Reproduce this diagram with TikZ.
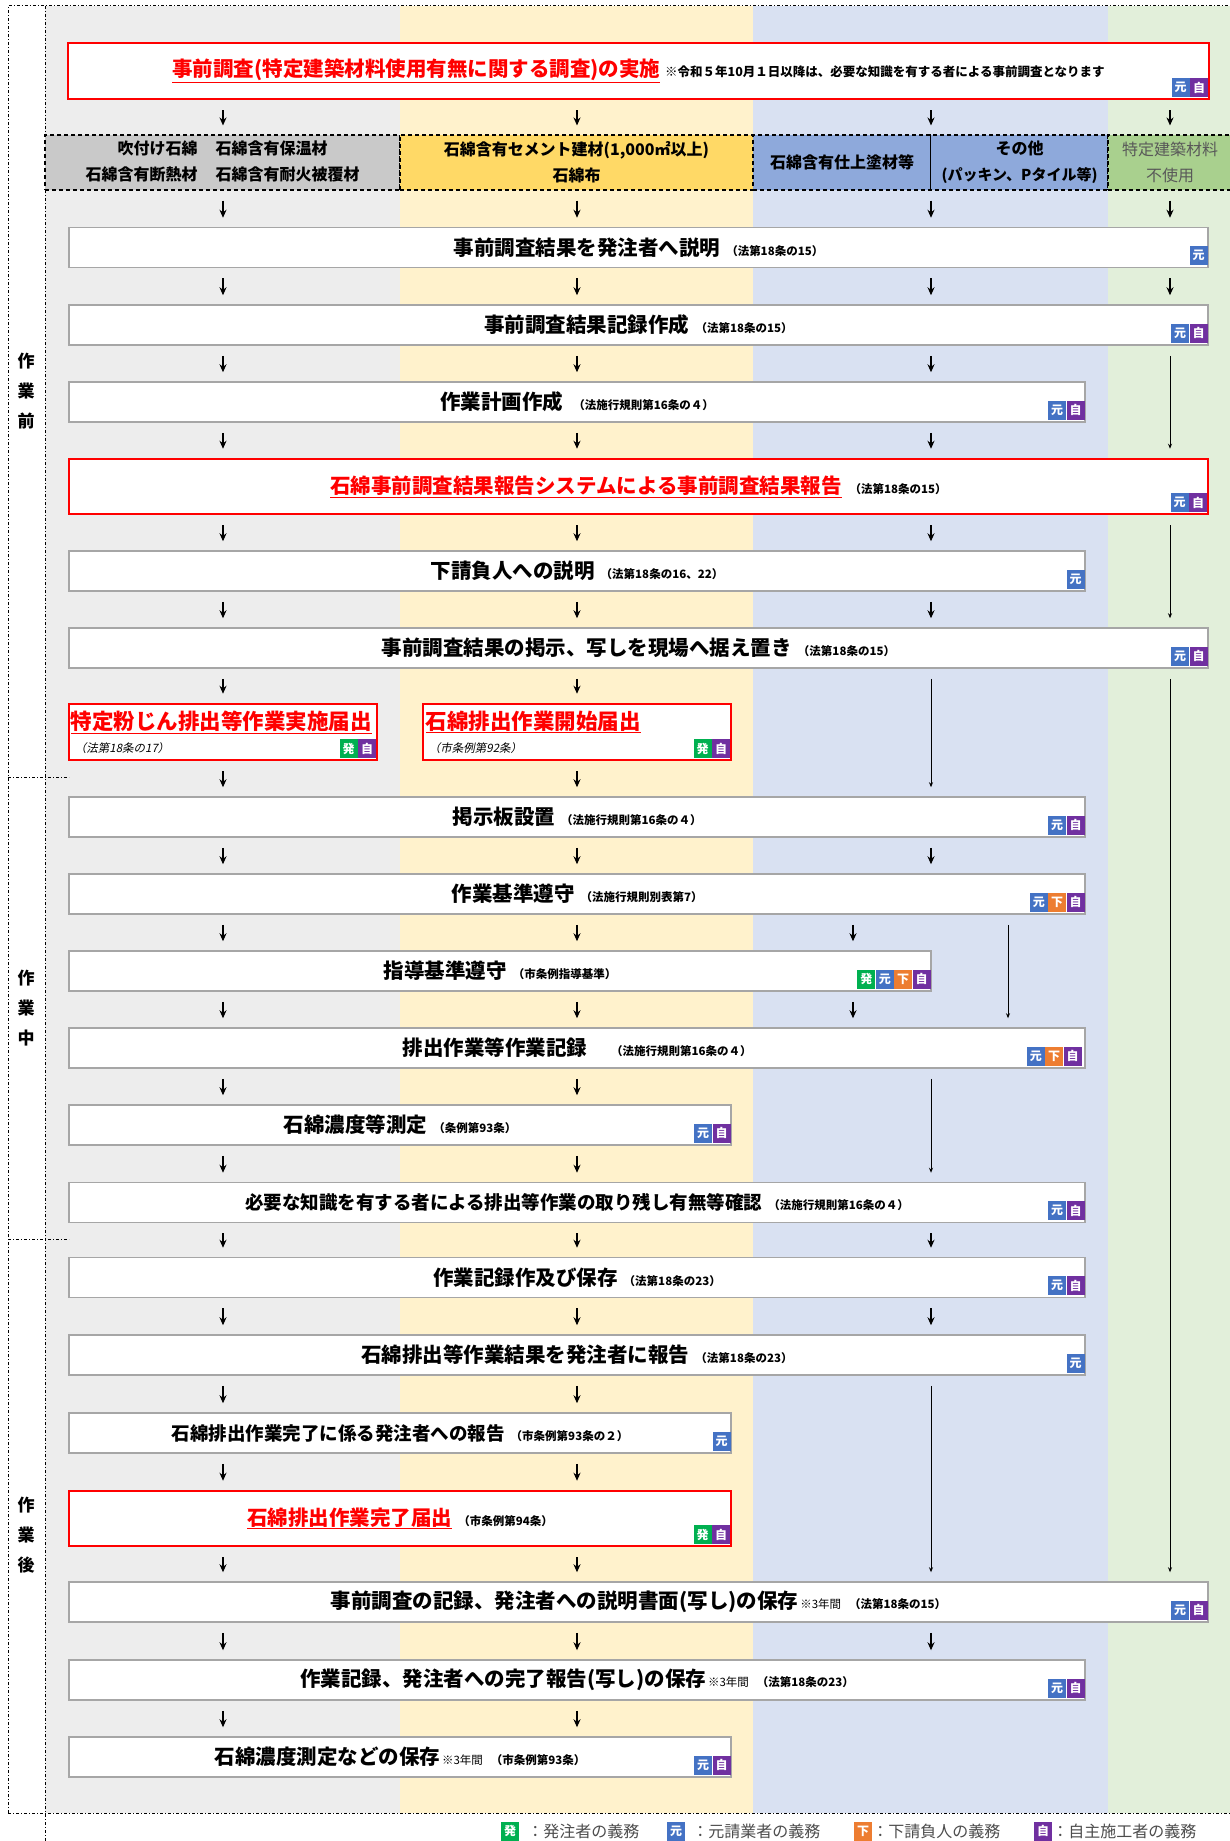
\documentclass[tikz,border=0pt]{standalone}
\usepackage{fontspec}
\setmainfont{Noto Sans CJK JP}
\newfontfamily\jpslant[FakeSlant=0.2]{Noto Sans CJK JP}
\usetikzlibrary{arrows.meta}

\definecolor{colgray}{HTML}{EDEDED}
\definecolor{colyellow}{HTML}{FFF2CC}
\definecolor{colblue}{HTML}{D9E1F2}
\definecolor{colgreen}{HTML}{E2EFDA}
\definecolor{headgray}{HTML}{C9C9C9}
\definecolor{headyellow}{HTML}{FFD966}
\definecolor{headblue}{HTML}{8EA9DB}
\definecolor{headgreen}{HTML}{A9D08E}
\definecolor{hatsugreen}{HTML}{00B050}
\definecolor{motoblue}{HTML}{4472C4}
\definecolor{shitaorange}{HTML}{ED7D31}
\definecolor{jishupurple}{HTML}{7030A0}
\definecolor{titlered}{HTML}{FF0000}

\newcommand{\lawref}[1]{{\fontsize{11.5}{13}\selectfont #1}}
\newcommand{\yearnote}{{\fontsize{11.5}{13}\selectfont\mdseries ※3年間}}
\newcommand{\redtitle}[1]{\textcolor{titlered}{\underline{#1}}}

\tikzset{
  flowbox/.style={draw=gray!70, line width=1.5pt, fill=white, minimum height=40pt,
    inner sep=0pt, font=\bfseries\fontsize{20.5}{24}\selectfont},
  flowred/.style={flowbox, draw=titlered, line width=2.5pt, minimum height=55pt},
  headbox/.style={draw, dash pattern=on 4pt off 3pt, line width=1.1pt, minimum height=55pt, inner sep=0pt,
    align=center, font=\bfseries\fontsize{16}{26}\selectfont},
  dutybadge/.style={minimum width=18pt, minimum height=19pt, inner sep=0pt, text=white,
    font=\bfseries\fontsize{12}{12}\selectfont, anchor=south east},
  hatsu/.style={dutybadge, fill=hatsugreen},
  moto/.style={dutybadge, fill=motoblue},
  shita/.style={dutybadge, fill=shitaorange},
  jishu/.style={dutybadge, fill=jishupurple},
  phase/.style={align=center, font=\bfseries\fontsize{17}{30}\selectfont},
  legendtext/.style={anchor=west, inner sep=0pt, text=gray!60!black, font=\fontsize{16}{18}\selectfont},
  flowarrow/.style={line width=1.8pt, -{Stealth[length=8pt,width=7pt]}, shorten <=10pt, shorten >=9pt},
  longarrow/.style={line width=0.8pt, -{Stealth[length=5pt,width=4pt]}, shorten <=10pt, shorten >=9pt},
  framedash/.style={line width=1pt, dash dot},
}

\begin{document}
\begin{tikzpicture}[x=1pt, y=-1pt]
\useasboundingbox (0,0) rectangle (1230,1841);

%% column backgrounds
\fill[colgray] (45,6) rectangle (400,1813);
\fill[colyellow] (400,6) rectangle (753,1813);
\fill[colblue] (753,6) rectangle (1108,1813);
\fill[colgreen] (1108,6) rectangle (1230,1813);

%% frame
\draw[framedash] (8,1813) -- (8,6) -- (1230,6);
\draw[framedash] (8,1813) -- (1230,1813);
\draw[framedash] (45,6) -- (45,1841);
\draw[framedash] (8,777) -- (69,777);
\draw[framedash] (8,1239) -- (69,1239);

\node[phase] (pre) at (26,391) {作\\業\\前};
\node[phase] (mid) at (26,1008) {作\\業\\中};
\node[phase] (post) at (26,1535) {作\\業\\後};

%% arrow columns
\coordinate (cG) at (223,0);
\coordinate (cY) at (577,0);
\coordinate (cB) at (931,0);
\coordinate (cE) at (1170,0);
\coordinate (cBl) at (853,0);
\coordinate (cBr) at (1008,0);

%% title
\node[flowred, minimum width=1141pt, minimum height=56pt] (T) at (638.5,71)
  {\redtitle{事前調査(特定建築材料使用有無に関する調査)の実施}\hspace{5pt}{\fontsize{12.5}{14}\selectfont ※令和５年10月１日以降は、必要な知識を有する者による事前調査となります}};
\node[jishu] (Tj) at ([xshift=-2pt,yshift=3pt]T.south east) {自};
\node[moto, anchor=east] (Tm) at (Tj.west) {元};

%% material headers
\node[headbox, fill=headgray, minimum width=355pt] (HG) at (222.5,162.5)
  {\begin{tabular}{@{}r@{\hspace{18pt}}l@{}}吹付け石綿 & 石綿含有保温材\\ 石綿含有断熱材 & 石綿含有耐火被覆材\end{tabular}};
\node[headbox, fill=headyellow, minimum width=353pt] (HY) at (576.5,162.5)
  {石綿含有セメント建材(1,000㎡以上)\\石綿布};
\node[headbox, fill=headblue, minimum width=355pt] (HB) at (930.5,162.5) {};
\draw[line width=0.8pt] (HB.north) -- (HB.south);
\node[font=\bfseries\fontsize{16}{20}\selectfont] (HBl) at (842,162.5) {石綿含有仕上塗材等};
\node[align=center, font=\bfseries\fontsize{16}{26}\selectfont] (HBr) at (1019.5,162.5)
  {その他\\{\fontsize{15}{26}\selectfont (パッキン、Pタイル等)}};
\node[headbox, fill=headgreen, minimum width=124pt, text=gray!70!black,
  font=\fontsize{16}{26}\selectfont] (HE) at (1170,162.5) {特定建築材料\\不使用};

%% before work
\node[flowbox, minimum width=1139pt] (B1) at (638.5,247.5) {事前調査結果を発注者へ説明\hspace{6pt}\lawref{（法第18条の15）}};
\node[moto] (B1m) at ([xshift=-1pt,yshift=3pt]B1.south east) {元};

\node[flowbox, minimum width=1139pt] (B2) at (638.5,325) {事前調査結果記録作成\hspace{6pt}\lawref{（法第18条の15）}};
\node[jishu] (B2j) at ([xshift=-1pt,yshift=3pt]B2.south east) {自};
\node[moto, anchor=east] (B2m) at (B2j.west) {元};

\node[flowbox, minimum width=1016pt] (B3) at (577,402) {作業計画作成\hspace{10pt}\lawref{（法施行規則第16条の４）}};
\node[jishu] (B3j) at ([xshift=-1pt,yshift=3pt]B3.south east) {自};
\node[moto, anchor=east] (B3m) at (B3j.west) {元};

\node[flowred, minimum width=1139pt] (B4) at (638.5,486.5) {\redtitle{石綿事前調査結果報告システムによる事前調査結果報告}\hspace{8pt}\lawref{（法第18条の15）}};
\node[jishu] (B4j) at ([xshift=-2pt,yshift=3pt]B4.south east) {自};
\node[moto, anchor=east] (B4m) at (B4j.west) {元};

\node[flowbox, minimum width=1016pt] (B5) at (577,571) {下請負人への説明\hspace{6pt}\lawref{（法第18条の16、22）}};
\node[moto] (B5m) at ([xshift=-1pt,yshift=3pt]B5.south east) {元};

\node[flowbox, minimum width=1139pt] (B6) at (638.5,648) {事前調査結果の掲示、写しを現場へ据え置き\hspace{6pt}\lawref{（法第18条の15）}};
\node[jishu] (B6j) at ([xshift=-1pt,yshift=3pt]B6.south east) {自};
\node[moto, anchor=east] (B6m) at (B6j.west) {元};

%% notifications
\node[flowred, minimum width=308pt, minimum height=56pt] (R1) at (223,732) {};
\node[anchor=west, inner sep=0pt, font=\bfseries\fontsize{21.5}{24}\selectfont] (R1t) at ([xshift=3pt,yshift=10pt]R1.west) {\redtitle{特定粉じん排出等作業実施届出}};
\node[anchor=west, inner sep=0pt] (R1r) at ([xshift=7pt,yshift=-16pt]R1.west) {\lawref{\jpslant （法第18条の17）}};
\node[jishu] (R1j) at ([xshift=-2pt,yshift=3pt]R1.south east) {自};
\node[hatsu, anchor=east] (R1h) at (R1j.west) {発};

\node[flowred, minimum width=308pt, minimum height=56pt] (R2) at (577,732) {};
\node[anchor=west, inner sep=0pt, font=\bfseries\fontsize{21.5}{24}\selectfont] (R2t) at ([xshift=4pt,yshift=10pt]R2.west) {\redtitle{石綿排出作業開始届出}};
\node[anchor=west, inner sep=0pt] (R2r) at ([xshift=7pt,yshift=-16pt]R2.west) {\lawref{\jpslant （市条例第92条）}};
\node[jishu] (R2j) at ([xshift=-2pt,yshift=3pt]R2.south east) {自};
\node[hatsu, anchor=east] (R2h) at (R2j.west) {発};

%% during work
\node[flowbox, minimum width=1016pt] (B7) at (577,817) {掲示板設置\hspace{6pt}\lawref{（法施行規則第16条の４）}};
\node[jishu] (B7j) at ([xshift=-1pt,yshift=3pt]B7.south east) {自};
\node[moto, anchor=east] (B7m) at (B7j.west) {元};

\node[flowbox, minimum width=1016pt] (B8) at (577,894) {作業基準遵守\hspace{6pt}\lawref{（法施行規則別表第7）}};
\node[jishu] (B8j) at ([xshift=-1pt,yshift=3pt]B8.south east) {自};
\node[shita, anchor=east] (B8s) at (B8j.west) {下};
\node[moto, anchor=east] (B8m) at (B8s.west) {元};

\node[flowbox, minimum width=862pt] (B9) at (500,971) {指導基準遵守\hspace{6pt}\lawref{（市条例指導基準）}};
\node[jishu] (B9j) at ([xshift=-1pt,yshift=3pt]B9.south east) {自};
\node[shita, anchor=east] (B9s) at (B9j.west) {下};
\node[moto, anchor=east] (B9m) at (B9s.west) {元};
\node[hatsu, anchor=east] (B9h) at (B9m.west) {発};

\node[flowbox, minimum width=1016pt] (B10) at (577,1048) {排出作業等作業記録\hspace{24pt}\lawref{（法施行規則第16条の４）}};
\node[jishu] (B10j) at ([xshift=-4pt,yshift=3pt]B10.south east) {自};
\node[shita, anchor=east] (B10s) at (B10j.west) {下};
\node[moto, anchor=east] (B10m) at (B10s.west) {元};

\node[flowbox, minimum width=662pt] (B11) at (400,1125) {石綿濃度等測定\hspace{6pt}\lawref{（条例第93条）}};
\node[jishu] (B11j) at ([xshift=-1pt,yshift=3pt]B11.south east) {自};
\node[moto, anchor=east] (B11m) at (B11j.west) {元};

\node[flowbox, minimum width=1016pt, font=\bfseries\fontsize{18.5}{22}\selectfont] (B12) at (577,1202.5) {必要な知識を有する者による排出等作業の取り残し有無等確認\hspace{6pt}\lawref{（法施行規則第16条の４）}};
\node[jishu] (B12j) at ([xshift=-1pt,yshift=3pt]B12.south east) {自};
\node[moto, anchor=east] (B12m) at (B12j.west) {元};

%% after work
\node[flowbox, minimum width=1016pt] (B13) at (577,1277.5) {作業記録作及び保存\hspace{6pt}\lawref{（法第18条の23）}};
\node[jishu] (B13j) at ([xshift=-1pt,yshift=3pt]B13.south east) {自};
\node[moto, anchor=east] (B13m) at (B13j.west) {元};

\node[flowbox, minimum width=1016pt] (B14) at (577,1355) {石綿排出等作業結果を発注者に報告\hspace{6pt}\lawref{（法第18条の23）}};
\node[moto] (B14m) at ([xshift=-1pt,yshift=3pt]B14.south east) {元};

\node[flowbox, minimum width=662pt, font=\bfseries\fontsize{18.5}{22}\selectfont] (B15) at (400,1433) {石綿排出作業完了に係る発注者への報告\hspace{6pt}\lawref{（市条例第93条の２）}};
\node[moto] (B15m) at ([xshift=-1pt,yshift=3pt]B15.south east) {元};

\node[flowred, minimum width=662pt] (B16) at (400,1518.5) {\redtitle{石綿排出作業完了届出}\hspace{6pt}\lawref{（市条例第94条）}};
\node[jishu] (B16j) at ([xshift=-2pt,yshift=3pt]B16.south east) {自};
\node[hatsu, anchor=east] (B16h) at (B16j.west) {発};

\node[flowbox, minimum width=1139pt] (B17) at (638.5,1602) {事前調査の記録、発注者への説明書面(写し)の保存\hspace{2pt}\yearnote\hspace{8pt}\lawref{（法第18条の15）}};
\node[jishu] (B17j) at ([xshift=-1pt,yshift=3pt]B17.south east) {自};
\node[moto, anchor=east] (B17m) at (B17j.west) {元};

\node[flowbox, minimum width=1016pt] (B18) at (577,1680) {作業記録、発注者への完了報告(写し)の保存\hspace{2pt}\yearnote\hspace{8pt}\lawref{（法第18条の23）}};
\node[jishu] (B18j) at ([xshift=-1pt,yshift=3pt]B18.south east) {自};
\node[moto, anchor=east] (B18m) at (B18j.west) {元};

\node[flowbox, minimum width=662pt] (B19) at (400,1757) {石綿濃度測定などの保存\hspace{2pt}\yearnote\hspace{8pt}\lawref{（市条例第93条）}};
\node[jishu] (B19j) at ([xshift=-1pt,yshift=3pt]B19.south east) {自};
\node[moto, anchor=east] (B19m) at (B19j.west) {元};

%% arrows
\draw[flowarrow] (T.south -| cG) -- (HG.north -| cG);
\draw[flowarrow] (T.south -| cY) -- (HY.north -| cY);
\draw[flowarrow] (T.south -| cB) -- (HB.north -| cB);
\draw[flowarrow] (T.south -| cE) -- (HE.north -| cE);

\draw[flowarrow] (HG.south -| cG) -- (B1.north -| cG);
\draw[flowarrow] (HY.south -| cY) -- (B1.north -| cY);
\draw[flowarrow] (HB.south -| cB) -- (B1.north -| cB);
\draw[flowarrow] (HE.south -| cE) -- (B1.north -| cE);

\draw[flowarrow] (B1.south -| cG) -- (B2.north -| cG);
\draw[flowarrow] (B1.south -| cY) -- (B2.north -| cY);
\draw[flowarrow] (B1.south -| cB) -- (B2.north -| cB);
\draw[flowarrow] (B1.south -| cE) -- (B2.north -| cE);

\draw[flowarrow] (B2.south -| cG) -- (B3.north -| cG);
\draw[flowarrow] (B2.south -| cY) -- (B3.north -| cY);
\draw[flowarrow] (B2.south -| cB) -- (B3.north -| cB);
\draw[longarrow] (B2.south -| cE) -- (B4.north -| cE);

\draw[flowarrow] (B3.south -| cG) -- (B4.north -| cG);
\draw[flowarrow] (B3.south -| cY) -- (B4.north -| cY);
\draw[flowarrow] (B3.south -| cB) -- (B4.north -| cB);

\draw[flowarrow] (B4.south -| cG) -- (B5.north -| cG);
\draw[flowarrow] (B4.south -| cY) -- (B5.north -| cY);
\draw[flowarrow] (B4.south -| cB) -- (B5.north -| cB);
\draw[longarrow] (B4.south -| cE) -- (B6.north -| cE);

\draw[flowarrow] (B5.south -| cG) -- (B6.north -| cG);
\draw[flowarrow] (B5.south -| cY) -- (B6.north -| cY);
\draw[flowarrow] (B5.south -| cB) -- (B6.north -| cB);

\draw[flowarrow] (B6.south -| cG) -- (R1.north -| cG);
\draw[flowarrow] (B6.south -| cY) -- (R2.north -| cY);
\draw[longarrow] (B6.south -| cB) -- (B7.north -| cB);
\draw[longarrow] (B6.south -| cE) -- (B17.north -| cE);

\draw[flowarrow] (R1.south -| cG) -- (B7.north -| cG);
\draw[flowarrow] (R2.south -| cY) -- (B7.north -| cY);

\draw[flowarrow] (B7.south -| cG) -- (B8.north -| cG);
\draw[flowarrow] (B7.south -| cY) -- (B8.north -| cY);
\draw[flowarrow] (B7.south -| cB) -- (B8.north -| cB);

\draw[flowarrow] (B8.south -| cG) -- (B9.north -| cG);
\draw[flowarrow] (B8.south -| cY) -- (B9.north -| cY);
\draw[flowarrow] (B8.south -| cBl) -- (B9.north -| cBl);
\draw[longarrow] (B8.south -| cBr) -- (B10.north -| cBr);

\draw[flowarrow] (B9.south -| cG) -- (B10.north -| cG);
\draw[flowarrow] (B9.south -| cY) -- (B10.north -| cY);
\draw[flowarrow] (B9.south -| cBl) -- (B10.north -| cBl);

\draw[flowarrow] (B10.south -| cG) -- (B11.north -| cG);
\draw[flowarrow] (B10.south -| cY) -- (B11.north -| cY);
\draw[longarrow] (B10.south -| cB) -- (B12.north -| cB);

\draw[flowarrow] (B11.south -| cG) -- (B12.north -| cG);
\draw[flowarrow] (B11.south -| cY) -- (B12.north -| cY);

\draw[flowarrow] (B12.south -| cG) -- (B13.north -| cG);
\draw[flowarrow] (B12.south -| cY) -- (B13.north -| cY);
\draw[flowarrow] (B12.south -| cB) -- (B13.north -| cB);

\draw[flowarrow] (B13.south -| cG) -- (B14.north -| cG);
\draw[flowarrow] (B13.south -| cY) -- (B14.north -| cY);
\draw[flowarrow] (B13.south -| cB) -- (B14.north -| cB);

\draw[flowarrow] (B14.south -| cG) -- (B15.north -| cG);
\draw[flowarrow] (B14.south -| cY) -- (B15.north -| cY);
\draw[longarrow] (B14.south -| cB) -- (B17.north -| cB);

\draw[flowarrow] (B15.south -| cG) -- (B16.north -| cG);
\draw[flowarrow] (B15.south -| cY) -- (B16.north -| cY);

\draw[flowarrow] (B16.south -| cG) -- (B17.north -| cG);
\draw[flowarrow] (B16.south -| cY) -- (B17.north -| cY);

\draw[flowarrow] (B17.south -| cG) -- (B18.north -| cG);
\draw[flowarrow] (B17.south -| cY) -- (B18.north -| cY);
\draw[flowarrow] (B17.south -| cB) -- (B18.north -| cB);

\draw[flowarrow] (B18.south -| cG) -- (B19.north -| cG);
\draw[flowarrow] (B18.south -| cY) -- (B19.north -| cY);

%% legend
\node[hatsu, anchor=center] (Lh) at (510,1831) {発};
\node[legendtext] (Lht) at ([xshift=8pt]Lh.east) {：発注者の義務};
\node[moto, anchor=center] (Lm) at (676,1831) {元};
\node[legendtext] (Lmt) at ([xshift=7pt]Lm.east) {：元請業者の義務};
\node[shita, anchor=center] (Ls) at (863,1831) {下};
\node[legendtext] (Lst) at (Ls.east) {：下請負人の義務};
\node[jishu, anchor=center] (Lj) at (1043,1831) {自};
\node[legendtext] (Ljt) at (Lj.east) {：自主施工者の義務};

\end{tikzpicture}
\end{document}
